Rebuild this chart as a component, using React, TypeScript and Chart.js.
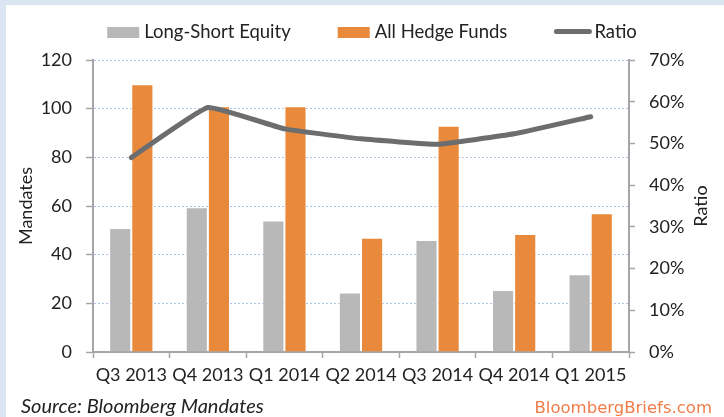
import React, { useEffect, useRef } from "react";
import { Chart, registerables } from "chart.js";

Chart.register(...registerables);

// ---------- data ----------
const categories = ["Q3 2013", "Q4 2013", "Q1 2014", "Q2 2014", "Q3 2014", "Q4 2014", "Q1 2015"];
const longShortEquity = [51, 59.5, 54, 24.5, 46, 25.5, 32];
const allHedgeFunds = [110, 101, 101, 47, 93, 48.5, 57];
const ratioPct = [46.6, 58.6, 53.5, 51.1, 49.8, 52.3, 56.4];

const seriesLabels = ["Long-Short Equity", "All Hedge Funds", "Ratio"];
const mandatesMax = 120;
const mandatesStep = 20;
const ratioMax = 70;
const ratioStep = 10;

const leftTitle = "Mandates";
const rightTitle = "Ratio";
const sourceText = "Source: Bloomberg Mandates";
const brandText = "BloombergBriefs.com";

// ---------- styles ----------
const FONT = "Lato, 'Noto Sans', sans-serif";
const TEXT = "#222222";
const AXIS = "#a6a6a6";
const GRID = "rgba(150,180,230,0.8)";
const GRAY = "#b8b8b8";
const ORANGE = "#e8893b";
const LINE = "#6c6d6f";

const bgPlugin = {
  id: "bgPanel",
  beforeDraw(chart: any) {
    const { ctx, width, height } = chart;
    ctx.save();
    ctx.fillStyle = "#dbe5f1";
    ctx.fillRect(0, 0, width, height);
    ctx.fillStyle = "#ffffff";
    ctx.fillRect(6, 5, width - 6, height - 5);
    ctx.restore();
  },
};

const decorPlugin = {
  id: "decor",
  afterDraw(chart: any) {
    const { ctx, chartArea } = chart;
    ctx.save();

    // legend
    ctx.font = `18.5px ${FONT}`;
    ctx.textBaseline = "middle";
    ctx.textAlign = "left";
    const boxW = 32, boxH = 11, lineLen = 37, gapBox = 5, gapLine = 3, itemGap = 47;
    const items = chart.data.datasets.map((ds: any) => ({
      label: ds.label,
      isLine: ds.type === "line",
      color: ds.type === "line" ? ds.borderColor : ds.backgroundColor,
    }));
    const widths = items.map((it: any) =>
      (it.isLine ? lineLen + gapLine : boxW + gapBox) + ctx.measureText(it.label).width
    );
    const total = widths.reduce((a: number, b: number) => a + b, 0) + itemGap * (items.length - 1);
    let x = 372 - total / 2;
    const ly = 32.5;
    items.forEach((it: any, i: number) => {
      if (it.isLine) {
        ctx.strokeStyle = it.color;
        ctx.lineWidth = 5;
        ctx.lineCap = "round";
        ctx.beginPath();
        ctx.moveTo(x + 2, ly - 1);
        ctx.lineTo(x + lineLen - 2, ly - 1);
        ctx.stroke();
        ctx.fillStyle = TEXT;
        ctx.fillText(it.label, x + lineLen + gapLine, ly);
      } else {
        ctx.fillStyle = it.color;
        ctx.fillRect(x, ly - boxH / 2, boxW, boxH);
        ctx.fillStyle = TEXT;
        ctx.fillText(it.label, x + boxW + gapBox, ly);
      }
      x += widths[i] + itemGap;
    });

    // right axis title (reads bottom-to-top)
    ctx.save();
    ctx.translate(701, (chartArea.top + chartArea.bottom) / 2);
    ctx.rotate(-Math.PI / 2);
    ctx.textAlign = "center";
    ctx.fillStyle = TEXT;
    ctx.font = `18px ${FONT}`;
    ctx.fillText(rightTitle, 0, 0);
    ctx.restore();

    // source & brand
    ctx.font = `italic 20px ${FONT}`;
    ctx.fillStyle = TEXT;
    ctx.textAlign = "left";
    ctx.fillText(sourceText, 21, 407);

    ctx.font = `16.5px 'DejaVu Sans', sans-serif`;
    ctx.fillStyle = "#f07c4a";
    ctx.textAlign = "right";
    ctx.fillText(brandText, 712, 409);

    ctx.restore();
  },
};

export default function App() {
  const canvasRef = useRef<HTMLCanvasElement | null>(null);

  useEffect(() => {
    if (!canvasRef.current) return;
    const tickFont = { family: FONT, size: 18 };
    const chart = new Chart(canvasRef.current, {
      type: "bar",
      data: {
        labels: categories,
        datasets: [
          {
            type: "bar",
            label: seriesLabels[0],
            data: longShortEquity,
            backgroundColor: GRAY,
            borderColor: "rgba(255,255,255,0.5)",
            borderWidth: 1,
            yAxisID: "y",
            order: 1,
            categoryPercentage: 0.578,
            barPercentage: 1,
          },
          {
            type: "bar",
            label: seriesLabels[1],
            data: allHedgeFunds,
            backgroundColor: ORANGE,
            borderColor: "rgba(255,255,255,0.5)",
            borderWidth: 1,
            yAxisID: "y",
            order: 1,
            categoryPercentage: 0.578,
            barPercentage: 1,
          },
          {
            type: "line",
            label: seriesLabels[2],
            data: ratioPct,
            borderColor: LINE,
            backgroundColor: LINE,
            borderWidth: 5,
            borderCapStyle: "round",
            borderJoinStyle: "round",
            pointRadius: 0,
            tension: 0.1,
            yAxisID: "y1",
            order: 0,
          },
        ],
      } as any,
      options: {
        animation: false,
        responsive: true,
        maintainAspectRatio: false,
        devicePixelRatio: 1,
        layout: { padding: { top: 60, left: 0, right: 0, bottom: 0 } },
        plugins: {
          legend: { display: false },
          tooltip: { enabled: false },
          title: { display: false },
        },
        scales: {
          x: {
            grid: {
              offset: true,
              drawOnChartArea: false,
              drawTicks: true,
              tickLength: 6,
              tickColor: AXIS,
              tickWidth: 1.5,
            },
            border: { color: AXIS, width: 2 },
            ticks: {
              font: tickFont,
              color: TEXT,
              padding: 6,
              maxRotation: 0,
              autoSkip: false,
            },
            afterFit: (s: any) => {
              s.height = 65;
            },
          },
          y: {
            position: "left",
            min: 0,
            max: mandatesMax,
            ticks: { stepSize: mandatesStep, font: tickFont, color: TEXT, padding: 14 },
            grid: {
              color: GRID,
              lineWidth: 1,
              tickLength: 7,
              tickColor: AXIS,
              tickWidth: 1.5,
            },
            border: { color: AXIS, width: 2, dash: [2, 2] },
            title: {
              display: true,
              text: leftTitle,
              font: { family: FONT, size: 18 },
              color: TEXT,
              padding: { top: 15, bottom: 0 },
            },
            afterFit: (s: any) => {
              s.width = 93;
            },
          },
          y1: {
            position: "right",
            min: 0,
            max: ratioMax,
            ticks: {
              stepSize: ratioStep,
              font: tickFont,
              color: TEXT,
              padding: 14,
              callback: (v: any) => `${v}%`,
            },
            grid: {
              drawOnChartArea: false,
              tickLength: 6,
              tickColor: AXIS,
              tickWidth: 1.5,
            },
            border: { color: AXIS, width: 2 },
            afterFit: (s: any) => {
              s.width = 95;
            },
          },
        },
      } as any,
      plugins: [bgPlugin, decorPlugin],
    });

    let alive = true;
    if ((document as any).fonts && (document as any).fonts.load) {
      Promise.all([
        (document as any).fonts.load(`18px Lato`),
        (document as any).fonts.load(`italic 18px Lato`),
        (document as any).fonts.load(`16px 'DejaVu Sans'`),
      ])
        .then(() => {
          if (alive) chart.update();
        })
        .catch(() => {});
    }

    return () => {
      alive = false;
      chart.destroy();
    };
  }, []);

  return (
    <div style={{ position: "fixed", left: 0, top: 0, width: 724, height: 417 }}>
      <canvas ref={canvasRef} />
    </div>
  );
}
